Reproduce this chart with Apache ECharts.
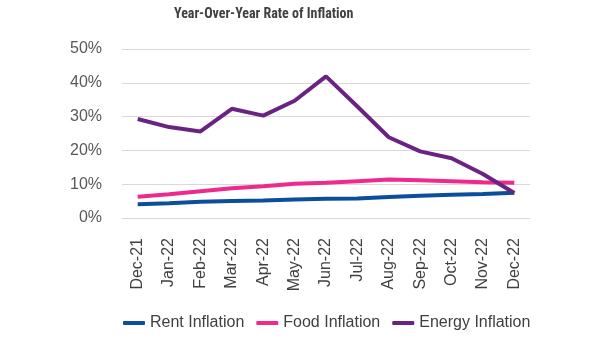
<!DOCTYPE html>
<html><head><meta charset="utf-8">
<script src="https://cdn.jsdelivr.net/npm/echarts@6/dist/echarts.min.js"></script>
<style>html,body{margin:0;padding:0;background:#fff}#c{width:600px;height:338px}</style>
</head><body><div id="c"></div>
<script>
var categories = ['Dec-21','Jan-22','Feb-22','Mar-22','Apr-22','May-22','Jun-22','Jul-22','Aug-22','Sep-22','Oct-22','Nov-22','Dec-22'];
var rentInflation = [4.1, 4.4, 4.8, 5.0, 5.2, 5.5, 5.7, 5.8, 6.2, 6.6, 6.9, 7.1, 7.5];
var foodInflation = [6.3, 7.0, 7.9, 8.8, 9.4, 10.1, 10.4, 10.9, 11.4, 11.2, 10.9, 10.6, 10.4];
var energyInflation = [29.3, 26.9, 25.6, 32.3, 30.3, 34.7, 41.9, 33.0, 23.9, 19.7, 17.7, 13.0, 7.4];
var seriesNames = ['Rent Inflation', 'Food Inflation', 'Energy Inflation'];
var colors = ['#0B4F9C', '#EE2A8F', '#6A2382'];

var chart = echarts.init(document.getElementById('c'));
var data = [rentInflation, foodInflation, energyInflation];
chart.setOption({
  animation: false,
  color: colors,
  title: {
    text: 'Year-Over-Year Rate of Inflation',
    left: 169, top: 2,
    textStyle: {fontFamily: 'Roboto Condensed, Roboto, sans-serif', fontSize: 14, fontWeight: 'bold', color: '#404040'}
  },
  legend: {
    bottom: 2, left: 118, itemWidth: 22, itemHeight: 4, itemGap: 12,
    icon: 'roundRect',
    textStyle: {fontFamily: 'Liberation Sans, Arial, sans-serif', fontSize: 16, color: '#404040'},
    data: seriesNames
  },
  grid: {left: 122, right: 70, top: 49, bottom: 120},
  xAxis: {
    type: 'category', data: categories, boundaryGap: true,
    axisLine: {show: false}, axisTick: {show: false},
    axisLabel: {rotate: 90, fontSize: 16, color: '#404040', fontFamily: 'Liberation Sans, Arial, sans-serif', margin: 20}
  },
  yAxis: {
    type: 'value', min: 0, max: 50, interval: 10,
    axisLabel: {formatter: '{value}%', fontSize: 16, color: '#595959', fontFamily: 'Liberation Sans, Arial, sans-serif', margin: 20},
    splitLine: {lineStyle: {color: '#D9D9D9', width: 1}}
  },
  series: data.map(function(d, i){
    return {name: seriesNames[i], type: 'line', data: d, symbol: 'none', lineStyle: {width: 4, color: colors[i]}, z: i + 2};
  })
});
</script></body></html>
